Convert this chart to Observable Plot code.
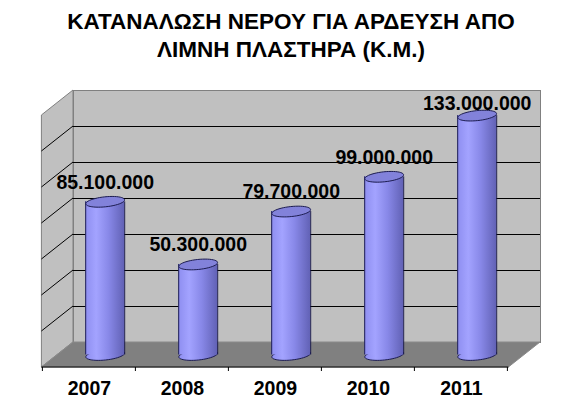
<!DOCTYPE html>
<html>
<head>
<meta charset="utf-8">
<script src="https://cdn.jsdelivr.net/npm/d3@7"></script>
<script src="https://cdn.jsdelivr.net/npm/@observablehq/plot@0.6"></script>
<style>
  html, body { margin: 0; padding: 0; background: #ffffff; }
  #title {
    width: 580px; height: 70px; box-sizing: border-box; padding-top: 7.5px; padding-left: 2px;
    font: bold 22.5px "Liberation Sans", Arial, sans-serif; line-height: 28px;
    text-align: center; color: #000;
  }
</style>
</head>
<body>
<div id="title">ΚΑΤΑΝΑΛΩΣΗ ΝΕΡΟΥ ΓΙΑ ΑΡΔΕΥΣΗ ΑΠΟ<br>ΛΙΜΝΗ ΠΛΑΣΤΗΡΑ (Κ.Μ.)</div>
<div id="chart"></div>
<script>
// ---- data ----
const years = ["2007", "2008", "2009", "2010", "2011"];
const values = [85100000, 50300000, 79700000, 99000000, 133000000];
const yDomain = [0, 140000000];
const gridTicks = [20000000, 40000000, 60000000, 80000000, 100000000, 120000000];

const data = years.map((year, i) => ({year, value: values[i]}));

// ---- style constants ----
const W = 580, H = 335;
const mL = 73, mR = 40, mT = 20, mB = 63;
const DX = 31.6, DY = 25;           // 3D depth offset
const CX = -DX / 2, CY = DY / 2;    // cylinders sit mid-depth
const RX = 19.5, RY = 5, TILT = -6 * Math.PI / 180;
const FONT = 19.5;
const outline = "#1c1c50";

const fmt = d3.formatLocale({decimal: ",", thousands: ".", grouping: [3], currency: ["", "€"]}).format(",d");

// ellipse symbol for cylinder caps
const ellipse = {
  draw(context) {
    const n = 48;
    for (let k = 0; k <= n; ++k) {
      const t = (k / n) * 2 * Math.PI;
      const px = RX * Math.cos(t) * Math.cos(TILT) - RY * Math.sin(t) * Math.sin(TILT);
      const py = RX * Math.cos(t) * Math.sin(TILT) + RY * Math.sin(t) * Math.cos(TILT);
      if (k === 0) context.moveTo(px, py); else context.lineTo(px, py);
    }
    context.closePath();
  }
};

// keep value labels inside the plot area (clamp like the original)
const yScale = Plot.scale({y: {domain: yDomain, range: [H - mB, mT]}});
const labelLimit = yScale.invert(mT + FONT + 1);
const labelY = d => Math.min(d.value, labelLimit);

// gradient definitions
function defs() {
  const d = d3.create("svg:defs");
  const g = d.append("linearGradient").attr("id", "cyl").attr("x1", 0).attr("x2", 1).attr("y1", 0).attr("y2", 0);
  [["0%", "#8e8ef0"], ["28%", "#a3a3ff"], ["60%", "#8888e8"], ["100%", "#6262b6"]]
    .forEach(([o, c]) => g.append("stop").attr("offset", o).attr("stop-color", c));
  return d.node();
}

// side wall, floor and side-wall gridlines of the 3D box
function box(index, scales, vals, dims) {
  const {x, y} = scales;
  const left = dims.marginLeft, right = dims.width - dims.marginRight;
  const top = dims.marginTop, bottom = dims.height - dims.marginBottom;
  const g = d3.create("svg:g");
  g.append("path")
    .attr("d", `M${left},${top}L${left},${bottom}L${left - DX},${bottom + DY}L${left - DX},${top + DY}Z`)
    .attr("fill", "#c0c0c0").attr("stroke", "#808080");
  g.append("path")
    .attr("d", `M${left},${bottom}L${right},${bottom}L${right - DX},${bottom + DY}L${left - DX},${bottom + DY}Z`)
    .attr("fill", "#808080").attr("stroke", "#8a8a8a");
  for (const v of gridTicks) {
    const py = y(v);
    g.append("line").attr("x1", left).attr("y1", py).attr("x2", left - DX).attr("y2", py + DY)
      .attr("stroke", "#000");
  }
  g.append("line").attr("x1", left - DX).attr("x2", right - DX)
    .attr("y1", bottom + DY).attr("y2", bottom + DY).attr("stroke", "#000");
  const edges = x.domain().map(d => x(d)).concat([x(x.domain()[x.domain().length - 1]) + x.bandwidth()]);
  for (const ex of edges) {
    g.append("line").attr("x1", ex - DX).attr("x2", ex - DX)
      .attr("y1", bottom + DY).attr("y2", bottom + DY + 4).attr("stroke", "#000");
  }
  return g.node();
}

const chart = Plot.plot({
  width: W,
  height: H,
  marginLeft: mL,
  marginRight: mR,
  marginTop: mT,
  marginBottom: mB,
  style: {fontFamily: "'Liberation Sans', Arial, sans-serif", background: "#ffffff", overflow: "visible"},
  x: {domain: years, padding: 0, axis: null},
  y: {domain: yDomain, axis: null},
  marks: [
    defs,
    Plot.frame({fill: "#c0c0c0", stroke: "#808080"}),
    box,
    Plot.ruleY(gridTicks, {stroke: "#000", strokeWidth: 1}),
    // cylinder bottoms
    Plot.dot(data, {x: "year", y: 0, symbol: ellipse, fill: "url(#cyl)", stroke: outline, strokeWidth: 1, dx: CX, dy: CY}),
    // cylinder bodies
    Plot.barY(data, {x: "year", y: "value", fill: "url(#cyl)", insetLeft: 46.7 - RX, insetRight: 46.7 - RX, dx: CX, dy: CY}),
    Plot.ruleX(data, {x: "year", y1: 0, y2: "value", stroke: outline, strokeWidth: 1, dx: CX - RX, dy: CY}),
    Plot.ruleX(data, {x: "year", y1: 0, y2: "value", stroke: outline, strokeWidth: 1, dx: CX + RX, dy: CY}),
    // cylinder tops
    Plot.dot(data, {x: "year", y: "value", symbol: ellipse, fill: "#8282da", stroke: outline, strokeWidth: 1, dx: CX, dy: CY}),
    // value labels
    Plot.text(data, {x: "year", y: labelY, text: d => fmt(d.value), dx: CX, dy: -7, lineAnchor: "middle",
      fontSize: FONT, fontWeight: "bold", fill: "#000"}),
    // category labels on the front edge
    Plot.text(data, {x: "year", text: "year", frameAnchor: "bottom", lineAnchor: "middle", dx: -DX, dy: 46,
      fontSize: FONT, fontWeight: "bold", fill: "#000"})
  ]
});
document.getElementById("chart").appendChild(chart);
</script>
</body>
</html>
